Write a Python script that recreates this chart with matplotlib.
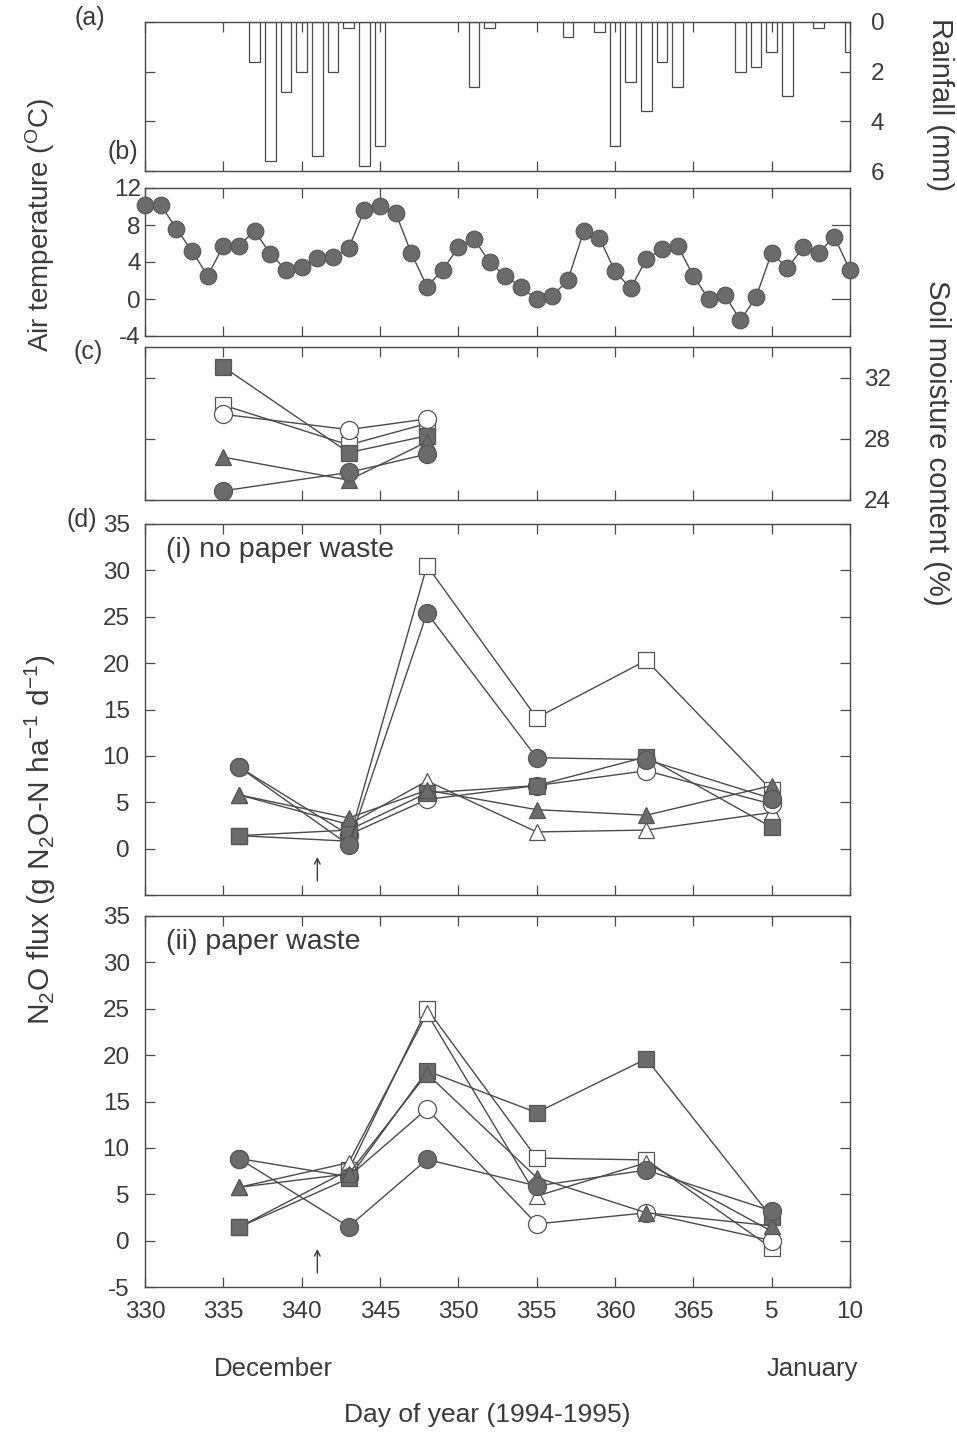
import numpy as np
import matplotlib
matplotlib.use("Agg")
import matplotlib.pyplot as plt

plt.rcParams['font.family'] = ['Liberation Sans', 'DejaVu Sans']
plt.rcParams['mathtext.fontset'] = 'custom'
plt.rcParams['mathtext.rm'] = 'Liberation Sans'
plt.rcParams['mathtext.it'] = 'Liberation Sans:italic'
plt.rcParams['mathtext.default'] = 'regular'
plt.rcParams['axes.unicode_minus'] = False

# (a) rainfall, mm per day
rain_days = [337, 338, 339, 340, 341, 342, 343, 344, 345, 351, 352, 357, 359,
             360, 361, 362, 363, 364, 368, 369, 370, 371, 373, 375]
rain_mm = [1.6, 5.6, 2.8, 2.0, 5.4, 2.0, 0.25, 5.8, 5.0, 2.6, 0.25, 0.6, 0.4,
           5.0, 2.4, 3.6, 1.6, 2.6, 2.0, 1.8, 1.2, 3.0, 0.25, 1.2]

# (b) daily air temperature, days 330..375
temp_days = list(range(330, 376))
temp_c = [10.2, 10.2, 7.6, 5.2, 2.5, 5.75, 5.75, 7.4, 4.85, 3.15, 3.5, 4.4,
          4.5, 5.5, 9.6, 10.1, 9.3, 4.95, 1.35, 3.15, 5.6, 6.5, 3.95, 2.5,
          1.3, -0.05, 0.3, 2.1, 7.3, 6.6, 3.0, 1.15, 4.3, 5.4, 5.75, 2.5,
          -0.05, 0.45, -2.3, 0.2, 5.0, 3.3, 5.6, 5.0, 6.75, 3.1]

# (c) soil moisture
sm_days = [335, 343, 348]
sm_fs = [32.7, 27.1, 28.2]
sm_os = [30.2, 27.6, 29.0]
sm_oc = [29.6, 28.6, 29.3]
sm_ft = [26.8, 25.3, 27.8]
sm_fc = [24.6, 25.8, 27.0]

# (d) N2O flux
flux_days = [336, 343, 348, 355, 362, 370]
# (i) no paper waste
fc_i = [8.8, 0.4, 25.4, 9.8, 9.6, 5.4]
oc_i = [8.8, 1.5, 5.3, 6.8, 8.4, 4.8]
fs_i = [1.4, 2.0, 6.0, 6.8, 9.9, 2.3]
os_i = [1.4, 0.8, 30.5, 14.1, 20.3, 6.3]
ft_i = [5.8, 3.3, 6.3, 4.2, 3.6, 6.8]
ot_i = [5.8, 2.6, 7.3, 1.8, 2.0, 3.9]
# (ii) paper waste
fc_ii = [8.85, 1.5, 8.75, 5.9, 7.6, 3.2]
oc_ii = [8.85, 6.9, 14.2, 1.8, 3.0, 0.0]
fs_ii = [1.45, 6.7, 18.3, 13.8, 19.6, 2.5]
os_ii = [1.45, 7.6, 25.0, 8.9, 8.7, -0.8]
ft_ii = [5.75, 7.2, 18.0, 6.8, 3.0, 1.6]
ot_ii = [5.75, 8.4, 24.5, 4.8, 8.4, 1.0]

x_ticks = [330, 335, 340, 345, 350, 355, 360, 365, 370, 375]
x_labels = ['330', '335', '340', '345', '350', '355', '360', '365', '5', '10']

ink = '#4a4a4a'
fill = '#6b6b6b'
txt = '#3a3a3a'

W, H = 957, 1432
L, R = 145, 850
fig = plt.figure(figsize=(W / 100, H / 100), dpi=100)


def add_panel(top, bottom):
    ax = fig.add_axes([L / W, 1 - bottom / H, (R - L) / W, (bottom - top) / H])
    ax.set_xlim(330, 375)
    ax.set_xticks(x_ticks)
    ax.tick_params(direction='in', length=7, width=0.9, colors=ink,
                   labelcolor=txt, labelsize=17.5, top=True, right=True)
    for s in ax.spines.values():
        s.set_color(ink)
        s.set_linewidth(1.0)
    return ax


# (a)
ax_a = add_panel(22, 171)
ax_a.bar(rain_days, rain_mm, width=0.7, facecolor='white', edgecolor=ink, linewidth=0.9)
ax_a.set_ylim(6, 0)
ax_a.set_yticks([0, 2, 4, 6])
ax_a.tick_params(axis='y', labelleft=False, labelright=True, pad=15)
ax_a.tick_params(axis='x', labelbottom=False)

# (b)
ax_b = add_panel(188, 336)
ax_b.plot(temp_days, temp_c, '-', color=ink, lw=1, zorder=2)
ax_b.plot(temp_days, temp_c, 'o', ms=12, mfc=fill, mec='#555555', mew=0.8,
          clip_on=False, zorder=3)
ax_b.set_ylim(-4, 12)
ax_b.set_yticks([-4, 0, 4, 8, 12])
ax_b.tick_params(axis='y', right=False, pad=3)
ax_b.tick_params(axis='x', labelbottom=False)
for yv in [0, 8]:
    ax_b.plot([1, 0.975], [(yv + 4) / 16] * 2, transform=ax_b.transAxes, color=ink, lw=0.9)

# (c)
ax_c = add_panel(347, 500)
series_c = [(sm_os, 's', False), (sm_oc, 'o', False), (sm_fs, 's', True),
            (sm_ft, '^', True), (sm_fc, 'o', True)]
for vals, mk, filled in series_c:
    ms = 13 if mk == 'o' else 11.5
    ax_c.plot(sm_days, vals, '-', marker=mk, color=ink, lw=1, ms=ms,
              mfc=fill if filled else 'white', mec='#555555', mew=0.9)
ax_c.set_ylim(24, 34)
ax_c.set_yticks([24, 28, 32])
ax_c.tick_params(axis='y', labelleft=False, labelright=True, pad=10)
ax_c.tick_params(axis='x', labelbottom=False)


# (d)
def flux_panel(ax, fc, oc, fs, os_, ft, ot, title):
    # open symbols first so the shared starting points show the filled ones
    series = [(os_, 's', False), (ot, '^', False), (oc, 'o', False),
              (fs, 's', True), (ft, '^', True), (fc, 'o', True)]
    for vals, mk, filled in series:
        ms = 13 if mk == 'o' else 11.5
        ax.plot(flux_days, vals, '-', marker=mk, color=ink, lw=1, ms=ms,
                mfc=fill if filled else 'white', mec='#555555', mew=0.9)
    ax.set_ylim(-5, 35)
    ax.set_yticks(range(-5, 40, 5))
    ax.tick_params(axis='y', pad=11)
    ax.text(0.03, 0.93, title, transform=ax.transAxes, fontsize=20.5, color=txt,
            va='center', ha='left')
    ax.annotate('', xy=(341, -0.6), xytext=(341, -3.8),
                arrowprops=dict(arrowstyle='->', color=txt, lw=1))


ax_d1 = add_panel(524, 895)
flux_panel(ax_d1, fc_i, oc_i, fs_i, os_i, ft_i, ot_i, '(i) no paper waste')
ax_d1.set_yticklabels([''] + [str(v) for v in range(0, 40, 5)])
ax_d1.tick_params(axis='x', labelbottom=False)

ax_d2 = add_panel(916, 1287)
flux_panel(ax_d2, fc_ii, oc_ii, fs_ii, os_ii, ft_ii, ot_ii, '(ii) paper waste')
ax_d2.set_xticklabels(x_labels)
ax_d2.tick_params(axis='x', pad=10)

ax_d2.text(338.2, -0.22, 'December', transform=ax_d2.get_xaxis_transform(),
           fontsize=18.5, color=txt, ha='center', va='center')
ax_d2.text(372.6, -0.22, 'January', transform=ax_d2.get_xaxis_transform(),
           fontsize=18.5, color=txt, ha='center', va='center')

# figure-level labels
fig.text(487 / W, 1 - 1415 / H, 'Day of year (1994-1995)', fontsize=19,
         color=txt, ha='center', va='center')
fig.text(40 / W, 1 - 225 / H, r'Air temperature ($^{\mathrm{O}}$C)', fontsize=20,
         color=txt, ha='center', va='center', rotation=90)
fig.text(40 / W, 1 - 840 / H, r'N$_2$O flux (g N$_2$O-N ha$^{-1}$ d$^{-1}$)',
         fontsize=21.5, color=txt, ha='center', va='center', rotation=90)
fig.text(940 / W, 1 - 105 / H, 'Rainfall (mm)', fontsize=21,
         color=txt, ha='center', va='center', rotation=-90)
fig.text(937 / W, 1 - 443 / H, 'Soil moisture content (%)', fontsize=21,
         color=txt, ha='center', va='center', rotation=-90)
for lab, xp, yp in [('(a)', 90, 18), ('(b)', 123, 152), ('(c)', 88, 352), ('(d)', 82, 520)]:
    fig.text(xp / W, 1 - yp / H, lab, fontsize=18, color=txt, ha='center', va='center')

fig.savefig('out.png', dpi=100)
